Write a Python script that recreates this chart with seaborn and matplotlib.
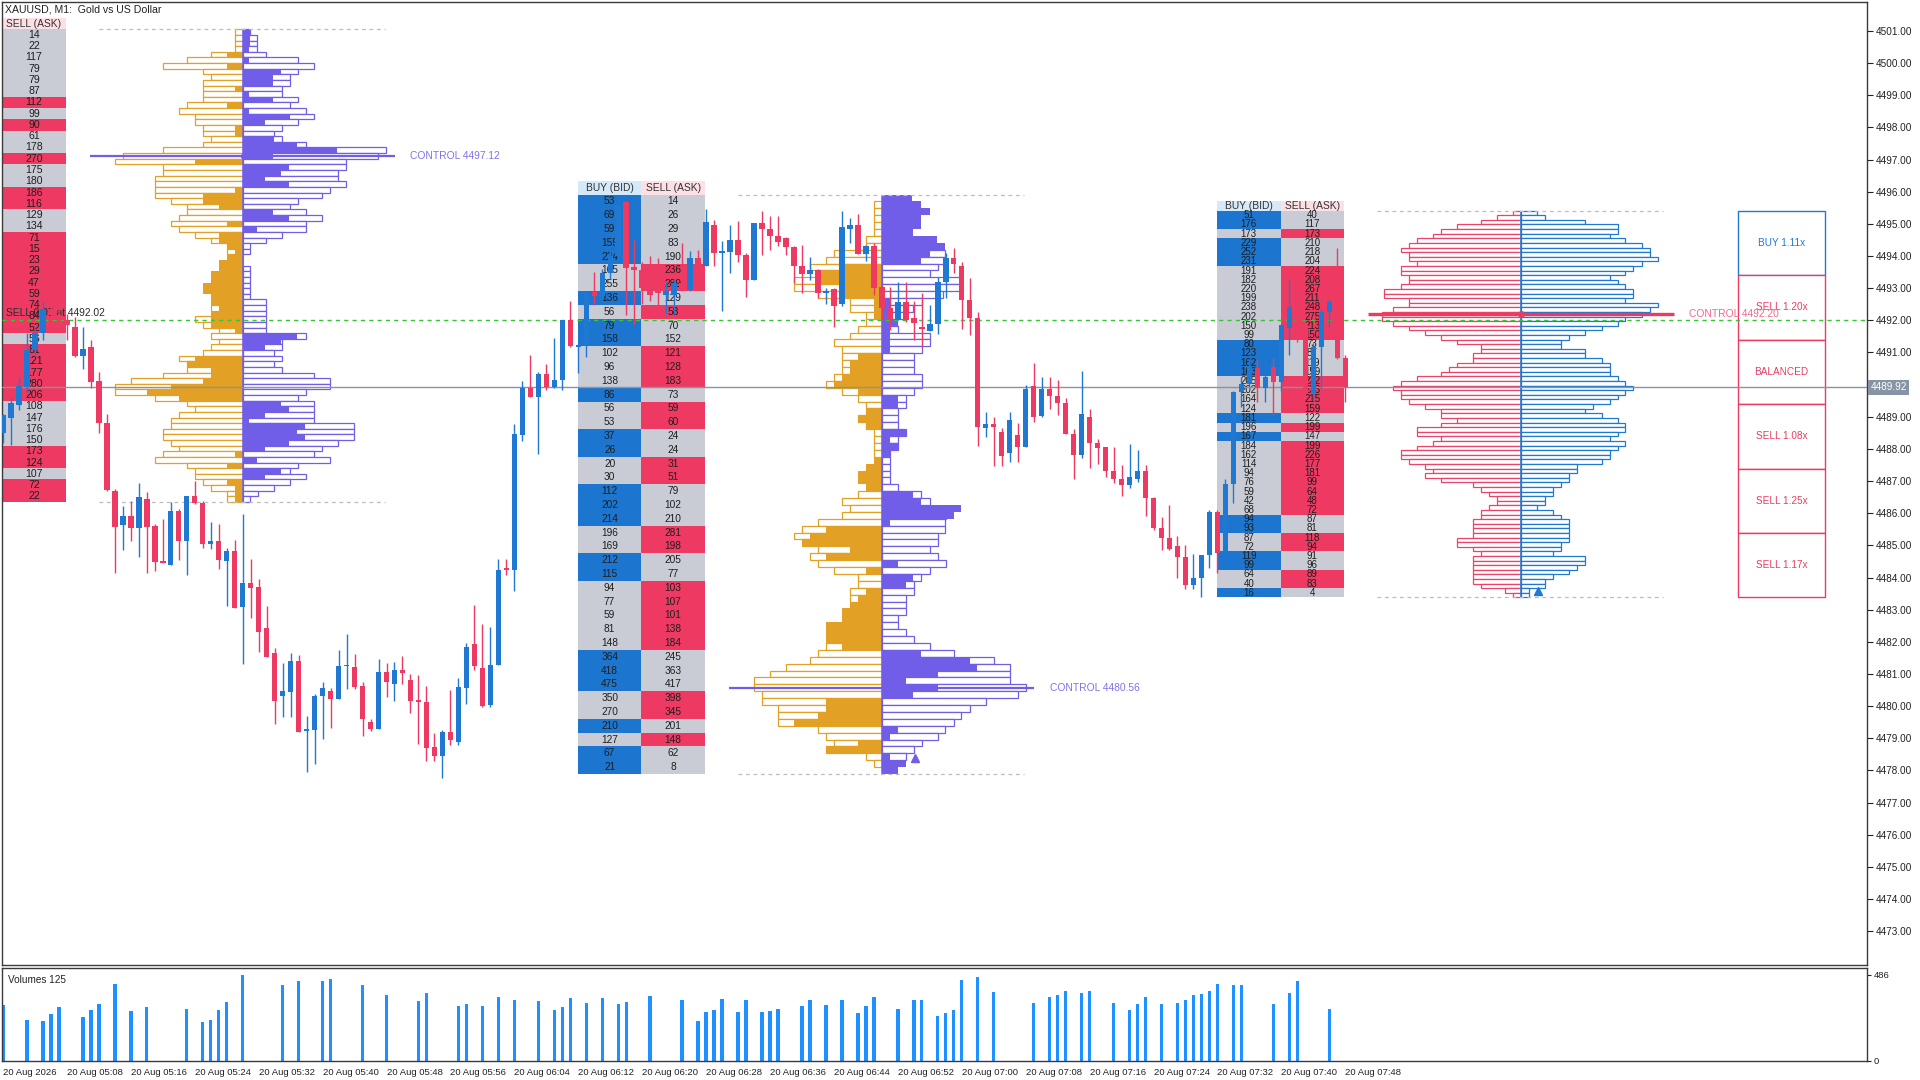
import numpy as np
import pandas as pd
import matplotlib
matplotlib.use("Agg")
import matplotlib.pyplot as plt
import matplotlib.transforms as mtransforms
import seaborn as sns

# ---------------- data ----------------
# one-minute candles, minute 0 = 20 Aug 05:00
opens = [4488.50, 4488.95, 4489.37, 4489.94, 4491.08, 4491.60, 4492.35, 4492.15, 4492.00, 4491.80,
         4490.90, 4491.18, 4490.10, 4488.80, 4486.70, 4485.64, 4485.92, 4485.55, 4486.44, 4485.60,
         4484.53, 4484.40, 4486.07, 4485.15, 4486.54, 4486.33, 4485.05, 4485.13, 4484.53, 4484.82,
         4483.08, 4483.82, 4483.70, 4482.42, 4481.65, 4480.33, 4480.43, 4481.40, 4479.22, 4479.25,
         4480.33, 4480.46, 4480.22, 4481.24, 4481.22, 4480.64, 4479.51, 4479.30, 4481.06, 4480.70,
         4481.11, 4480.80, 4480.19, 4480.12, 4478.73, 4478.45, 4479.21, 4478.89, 4480.57, 4481.93,
         4481.19, 4480.03, 4481.27, 4484.27, 4484.25, 4488.43, 4489.91, 4489.60, 4490.34, 4489.92,
         4490.13, 4492.01, 4491.18, 4491.23, 4492.88, 4492.75, 4493.46, 4494.00, 4495.69, 4493.65,
         4493.57, 4493.00, 4492.94, 4492.80, 4492.80, 4493.15, 4492.94, 4493.93, 4493.68, 4494.97,
         4494.10, 4494.14, 4494.50, 4494.04, 4493.25, 4495.04, 4494.83, 4494.62, 4494.55, 4494.29,
         4493.69, 4493.44, 4493.55, 4492.84, 4492.96, 4492.50, 4494.85, 4494.95, 4494.06, 4494.30,
         4493.05, 4492.38, 4492.01, 4492.58, 4492.06, 4491.80, 4491.68, 4491.89, 4493.20, 4493.93,
         4493.70, 4492.63, 4492.08, 4488.64, 4488.78, 4488.54, 4487.88, 4488.43, 4488.07, 4489.96,
         4489.02, 4489.87, 4489.66, 4489.44, 4488.48, 4487.81, 4489.00, 4488.19, 4488.07, 4487.32,
         4487.07, 4486.88, 4487.07, 4487.30, 4486.48, 4485.54, 4485.24, 4484.99, 4484.65, 4483.77,
         4483.98, 4484.69, 4486.05, 4484.75, 4486.91, 4489.76, 4490.02, 4490.52, 4489.89, 4490.56,
         4490.09, 4491.75, 4492.40, 4491.90, 4489.73, 4491.18, 4492.27, 4492.55, 4490.82]
highs = [4489.10, 4489.58, 4490.20, 4491.60, 4491.75, 4492.60, 4492.70, 4492.40, 4492.20, 4492.10,
         4491.80, 4491.40, 4490.40, 4489.10, 4486.75, 4486.23, 4486.39, 4486.93, 4486.67, 4485.68,
         4485.81, 4486.36, 4486.13, 4486.54, 4487.00, 4486.39, 4485.74, 4485.68, 4484.93, 4485.16,
         4485.97, 4484.58, 4483.95, 4483.13, 4481.81, 4481.35, 4481.65, 4481.58, 4479.68, 4480.38,
         4480.75, 4480.57, 4481.74, 4482.24, 4481.62, 4480.75, 4479.60, 4481.46, 4481.34, 4481.37,
         4481.56, 4480.99, 4480.96, 4480.62, 4479.18, 4479.26, 4480.51, 4480.87, 4481.95, 4483.15,
         4482.57, 4482.47, 4484.59, 4484.59, 4488.77, 4490.12, 4490.93, 4490.38, 4490.64, 4491.46,
         4492.01, 4492.60, 4491.29, 4492.89, 4493.50, 4493.60, 4494.20, 4495.80, 4495.70, 4494.50,
         4493.80, 4494.00, 4493.93, 4493.20, 4493.30, 4494.40, 4494.15, 4494.20, 4495.45, 4495.12,
         4494.48, 4494.97, 4495.10, 4494.10, 4495.04, 4495.40, 4495.25, 4495.25, 4494.60, 4494.30,
         4494.34, 4493.96, 4493.60, 4493.00, 4493.00, 4495.40, 4495.17, 4495.30, 4494.35, 4494.40,
         4493.10, 4493.03, 4493.19, 4493.19, 4492.60, 4492.84, 4492.48, 4493.36, 4494.10, 4494.24,
         4493.80, 4493.31, 4492.25, 4489.16, 4488.98, 4488.64, 4489.16, 4488.82, 4490.00, 4490.66,
         4490.23, 4490.23, 4490.15, 4489.57, 4488.62, 4490.41, 4489.24, 4488.30, 4488.07, 4488.05,
         4487.50, 4488.15, 4487.97, 4487.50, 4486.50, 4485.87, 4486.26, 4485.30, 4485.00, 4484.73,
         4484.69, 4486.10, 4486.10, 4487.06, 4489.80, 4490.25, 4490.80, 4490.77, 4490.90, 4490.82,
         4491.90, 4493.25, 4492.50, 4492.00, 4491.30, 4492.35, 4492.65, 4494.24, 4490.92]
lows = [4488.20, 4488.12, 4489.20, 4489.70, 4490.90, 4491.40, 4492.00, 4491.90, 4491.40, 4490.85,
        4490.50, 4489.90, 4488.50, 4486.70, 4484.14, 4484.87, 4485.13, 4484.63, 4484.14, 4484.20,
        4484.45, 4484.40, 4484.56, 4484.09, 4486.30, 4484.92, 4484.90, 4484.27, 4483.10, 4483.04,
        4481.32, 4482.73, 4481.69, 4481.53, 4479.44, 4479.65, 4479.65, 4479.21, 4477.94, 4478.19,
        4478.97, 4479.31, 4480.22, 4480.54, 4480.54, 4479.08, 4479.23, 4479.28, 4480.27, 4480.17,
        4480.70, 4479.80, 4478.81, 4478.29, 4478.29, 4477.77, 4478.78, 4478.78, 4480.07, 4481.13,
        4479.96, 4479.96, 4481.27, 4484.07, 4483.59, 4488.24, 4489.60, 4487.85, 4489.84, 4489.89,
        4489.84, 4491.17, 4490.37, 4490.87, 4492.48, 4492.60, 4493.30, 4493.90, 4492.17, 4491.90,
        4492.50, 4492.60, 4492.48, 4492.20, 4492.20, 4492.90, 4492.90, 4493.70, 4493.68, 4493.68,
        4492.30, 4493.46, 4493.80, 4492.74, 4493.25, 4494.03, 4494.19, 4494.30, 4494.03, 4493.15,
        4492.84, 4493.25, 4492.68, 4492.50, 4491.80, 4492.45, 4494.39, 4494.06, 4493.84, 4492.79,
        4492.00, 4491.70, 4492.01, 4491.95, 4491.39, 4491.18, 4491.68, 4491.57, 4492.70, 4493.46,
        4491.72, 4491.54, 4488.09, 4488.36, 4487.47, 4487.47, 4487.60, 4487.60, 4488.07, 4488.85,
        4488.98, 4489.24, 4489.06, 4488.48, 4487.07, 4487.71, 4487.40, 4487.53, 4487.14, 4486.93,
        4486.54, 4486.78, 4486.97, 4485.91, 4485.47, 4484.86, 4484.86, 4483.98, 4483.63, 4483.63,
        4483.39, 4484.29, 4484.15, 4484.70, 4486.31, 4489.31, 4489.95, 4489.47, 4489.47, 4489.06,
        4489.80, 4490.92, 4491.34, 4489.60, 4489.50, 4489.89, 4491.80, 4490.80, 4489.45]
closes = [4489.06, 4489.42, 4489.96, 4491.08, 4491.60, 4492.35, 4492.15, 4492.05, 4491.85, 4490.90,
          4491.10, 4490.09, 4488.80, 4486.72, 4485.58, 4485.92, 4485.55, 4486.49, 4485.58, 4484.49,
          4484.46, 4486.07, 4485.15, 4486.54, 4486.31, 4485.05, 4485.13, 4484.56, 4484.82, 4483.04,
          4483.82, 4483.67, 4482.31, 4481.53, 4480.15, 4480.46, 4481.40, 4479.21, 4479.29, 4480.33,
          4480.57, 4480.22, 4481.24, 4481.28, 4480.61, 4479.60, 4479.30, 4481.06, 4480.75, 4481.11,
          4481.04, 4480.17, 4480.12, 4478.71, 4478.45, 4479.21, 4478.94, 4480.59, 4481.84, 4481.24,
          4480.01, 4481.27, 4484.25, 4484.24, 4488.48, 4489.91, 4489.60, 4490.34, 4489.92, 4490.15,
          4492.01, 4491.19, 4491.23, 4492.85, 4492.75, 4493.46, 4494.00, 4495.60, 4493.62, 4493.57,
          4493.00, 4492.80, 4492.84, 4492.90, 4493.15, 4493.00, 4493.93, 4493.72, 4495.06, 4494.10,
          4494.14, 4494.50, 4494.04, 4493.25, 4495.04, 4494.83, 4494.62, 4494.45, 4494.29, 4493.69,
          4493.44, 4493.57, 4492.84, 4492.90, 4492.46, 4494.89, 4494.95, 4494.06, 4494.31, 4493.02,
          4492.38, 4492.01, 4492.58, 4492.01, 4491.91, 4491.72, 4491.89, 4493.20, 4493.93, 4493.75,
          4492.63, 4492.08, 4488.69, 4488.78, 4488.68, 4487.79, 4488.90, 4488.07, 4489.86, 4489.00,
          4489.87, 4489.66, 4489.44, 4488.48, 4487.81, 4489.09, 4488.19, 4488.04, 4487.32, 4487.07,
          4486.88, 4487.12, 4487.30, 4486.48, 4485.54, 4485.24, 4484.89, 4484.65, 4483.77, 4483.98,
          4484.69, 4486.05, 4484.75, 4486.91, 4489.76, 4490.02, 4490.55, 4489.89, 4490.25, 4490.09,
          4491.86, 4492.42, 4491.90, 4489.75, 4491.18, 4492.27, 4492.57, 4490.82, 4489.92]

# tick volumes (only the minutes that show a bar)
vol_minute = [0, 3, 5, 6, 7, 10, 11, 12, 14, 16, 18, 23, 25, 26, 27, 28, 30, 35, 37, 40, 41, 45, 48,
              52, 53, 57, 58, 60, 62, 64, 67, 69, 70, 71, 73, 75, 77, 78, 81, 85, 87, 88, 89, 90, 92,
              93, 95, 96, 97, 100, 101, 103, 105, 107, 108, 109, 112, 114, 115, 117, 118, 119, 120,
              122, 124, 129, 131, 132, 133, 135, 136, 139, 141, 142, 143, 145, 147, 148, 149, 150,
              151, 152, 154, 155, 159, 161, 162, 166]
vol_value = [317, 233, 227, 266, 306, 250, 289, 323, 435, 283, 306, 295, 221, 233, 289, 334, 486, 430,
             452, 452, 463, 430, 373, 340, 385, 311, 323, 311, 362, 345, 340, 289, 306, 357, 328, 357,
             323, 334, 368, 345, 227, 278, 289, 351, 278, 345, 278, 283, 295, 311, 345, 317, 345, 272,
             311, 362, 295, 345, 345, 255, 272, 289, 456, 473, 388, 327, 360, 372, 394, 383, 394, 327,
             287, 321, 360, 321, 327, 343, 372, 377, 394, 433, 428, 428, 321, 383, 450, 293]

# three session volume profiles (84 levels each, top to bottom)
prof_center = [30, 110, 190]
prof_top = [4501.05, 4495.91, 4495.41]
prof_bottom = [4486.35, 4477.89, 4483.38]
control_price = [4497.12, 4480.56, 4492.20]

prof1_left_out = [8, 8, 8, 8, 32, 56, 80, 40, 32, 40, 40, 40, 40, 56, 64, 48, 48, 40, 40, 32,
                  40, 80, 120, 128, 80, 80, 88, 88, 88, 88, 72, 56, 56, 64, 72, 64, 48, 32, 16, 16,
                  8, 8, 8, 16, 16, 24, 24, 16, 24, 32, 24, 48, 40, 24, 32, 24, 32, 40, 64, 56,
                  56, 80, 112, 128, 128, 88, 56, 48, 64, 72, 72, 80, 80, 72, 64, 80, 88, 56, 48, 48,
                  40, 32, 16, 16]
prof1_left_fill = [0, 0, 0, 0, 16, 0, 16, 0, 0, 0, 8, 0, 0, 16, 0, 0, 0, 8, 8, 0,
                   0, 0, 0, 48, 0, 0, 0, 0, 8, 40, 40, 24, 0, 0, 16, 0, 24, 24, 16, 8,
                   16, 24, 24, 32, 32, 40, 40, 32, 32, 24, 32, 32, 32, 8, 0, 0, 0, 0, 48, 56,
                   32, 32, 40, 72, 96, 64, 0, 0, 0, 0, 0, 0, 0, 0, 0, 8, 0, 16, 0, 0,
                   16, 8, 8, 8]
prof1_right_out = [7, 14, 14, 14, 23, 55, 71, 55, 47, 47, 39, 39, 55, 47, 63, 71, 55, 39, 31, 39,
                   63, 143, 135, 103, 103, 95, 95, 103, 87, 79, 55, 47, 63, 79, 63, 63, 39, 23, 7, 7,
                   0, 0, 7, 7, 7, 7, 7, 7, 23, 23, 23, 23, 23, 23, 63, 39, 39, 31, 39, 31,
                   39, 71, 87, 87, 63, 55, 71, 71, 71, 71, 111, 111, 111, 95, 79, 71, 87, 55, 47, 63,
                   47, 31, 15, 7]
prof1_right_fill = [7, 7, 7, 6, 0, 6, 0, 38, 30, 30, 0, 6, 30, 0, 6, 47, 22, 0, 0, 31,
                    54, 94, 30, 0, 46, 38, 22, 46, 0, 0, 0, 0, 30, 46, 0, 14, 0, 0, 0, 0,
                    0, 0, 0, 0, 0, 0, 0, 0, 0, 0, 0, 0, 0, 0, 54, 38, 22, 0, 0, 0,
                    0, 0, 0, 0, 0, 0, 38, 46, 22, 6, 62, 54, 62, 46, 22, 0, 14, 0, 38, 22,
                    0, 0, 0, 0]

prof2_left_out = [0, 8, 8, 8, 8, 8, 16, 16, 48, 56, 72, 62, 88, 88, 64, 32, 32, 16, 16, 24,
                  32, 48, 40, 40, 40, 40, 48, 56, 40, 24, 16, 16, 24, 16, 8, 8, 8, 8, 0, 0,
                  16, 0, 8, 24, 40, 32, 40, 64, 80, 88, 80, 64, 72, 64, 48, 24, 24, 32, 32, 0,
                  0, 0, 0, 48, 40, 56, 64, 72, 96, 112, 128, 128, 120, 120, 104, 104, 104, 64, 56, 48,
                  56, 16, 8, 0]
prof2_left_fill = [0, 0, 0, 0, 0, 0, 0, 0, 0, 0, 37, 62, 62, 37, 37, 8, 8, 8, 0, 0,
                   0, 0, 0, 24, 32, 32, 40, 48, 24, 0, 0, 16, 24, 16, 0, 0, 0, 0, 8, 16,
                   24, 24, 16, 0, 0, 0, 0, 0, 56, 72, 80, 32, 56, 0, 16, 0, 0, 16, 24, 32,
                   40, 40, 56, 56, 56, 40, 0, 0, 0, 0, 0, 0, 0, 56, 56, 64, 88, 0, 0, 24,
                   56, 0, 0, 0]
prof2_right_out = [0, 0, 0, 0, 0, 0, 0, 0, 63, 63, 56, 48, 78, 78, 61, 40, 31, 24, 15, 16,
                   48, 48, 40, 32, 32, 32, 40, 40, 32, 24, 24, 16, 16, 16, 24, 16, 16, 8, 8, 8,
                   8, 8, 16, 39, 48, 0, 64, 63, 63, 56, 56, 48, 56, 64, 48, 39, 32, 32, 24, 24,
                   24, 16, 16, 24, 32, 48, 72, 112, 128, 128, 128, 144, 136, 104, 88, 79, 72, 63, 56, 40,
                   32, 24, 0, 0]
prof2_right_fill = [30, 39, 48, 39, 39, 31, 55, 63, 48, 39, 0, 0, 0, 0, 0, 8, 8, 8, 15, 8,
                    8, 8, 8, 0, 0, 0, 0, 0, 0, 16, 16, 0, 0, 0, 24, 8, 16, 8, 0, 0,
                    0, 0, 0, 31, 39, 79, 72, 8, 0, 0, 0, 0, 0, 16, 0, 31, 24, 0, 0, 0,
                    0, 0, 0, 0, 0, 0, 39, 88, 95, 56, 24, 56, 31, 0, 0, 0, 0, 16, 8, 0,
                    0, 8, 24, 16]

prof3_left_out = [8, 24, 40, 64, 80, 88, 104, 112, 120, 112, 112, 104, 120, 120, 112, 112, 120, 137, 137, 112,
                  112, 128, 139, 139, 128, 112, 96, 80, 64, 40, 40, 48, 48, 64, 72, 80, 104, 120, 128, 120,
                  120, 112, 96, 80, 80, 64, 80, 104, 104, 80, 88, 104, 120, 120, 112, 96, 88, 96, 80, 48,
                  40, 32, 24, 24, 32, 40, 40, 48, 48, 48, 48, 64, 64, 48, 40, 48, 48, 48, 48, 48,
                  48, 40, 16, 8]
prof3_right_out = [16, 24, 64, 97, 97, 89, 104, 121, 129, 129, 137, 121, 112, 104, 89, 97, 104, 112, 112, 104,
                   137, 129, 121, 104, 97, 81, 64, 48, 40, 40, 64, 64, 81, 89, 89, 89, 97, 104, 112, 104,
                   97, 89, 72, 64, 81, 97, 104, 104, 97, 89, 104, 97, 89, 89, 81, 56, 56, 48, 48, 40,
                   32, 32, 24, 24, 16, 32, 40, 48, 48, 48, 48, 48, 40, 40, 32, 64, 64, 56, 48, 32,
                   24, 24, 8, 8]

# bid / ask tables (42 rows each)
tab1_sell = [14, 22, 117, 79, 79, 87, 112, 99, 90, 61, 178, 270, 175, 180, 186, 116, 129, 134, 71, 15,
             23, 29, 47, 59, 74, 84, 52, 56, 81, 121, 177, 280, 206, 108, 147, 176, 150, 173, 124, 107,
             72, 22]
tab1_sell_wins = [0, 0, 0, 0, 0, 0, 1, 0, 1, 0, 0, 1, 0, 0, 1, 1, 0, 0, 1, 1,
                  1, 1, 1, 1, 1, 1, 1, 0, 1, 1, 1, 1, 1, 0, 0, 0, 0, 1, 1, 0,
                  1, 1]
tab2_buy = [53, 69, 59, 159, 224, 165, 255, 136, 56, 79, 158, 102, 96, 138, 86, 56, 53, 37, 26, 20,
            30, 112, 202, 214, 196, 169, 212, 115, 94, 77, 59, 81, 148, 364, 418, 475, 350, 270, 210, 127,
            67, 21]
tab2_sell = [14, 26, 29, 83, 190, 236, 289, 129, 58, 70, 152, 121, 128, 183, 73, 59, 60, 24, 24, 31,
             51, 79, 102, 210, 281, 198, 205, 77, 103, 107, 101, 138, 184, 245, 363, 417, 398, 345, 201, 148,
             62, 8]
tab3_buy = [51, 176, 173, 229, 252, 231, 191, 182, 220, 199, 238, 202, 150, 99, 80, 123, 162, 163, 205, 202,
            164, 124, 181, 196, 167, 184, 162, 114, 94, 76, 59, 42, 68, 94, 93, 87, 72, 119, 99, 64,
            40, 16]
tab3_sell = [40, 117, 173, 210, 218, 204, 224, 208, 267, 211, 248, 275, 213, 150, 73, 87, 119, 159, 232, 233,
             215, 159, 122, 199, 147, 199, 226, 177, 181, 99, 64, 48, 72, 87, 81, 118, 94, 91, 96, 89,
             83, 4]

imbalance_labels = ["BUY 1.11x", "SELL 1.20x", "BALANCED", "SELL 1.08x", "SELL 1.25x", "SELL 1.17x"]
arrow_minute = [114.1, 192.1]
arrow_price = [4478.4, 4483.57]

last_price = 4489.92
order_price = 4492.02
last_volume = 125

# ---------------- styling ----------------
sns.set_style("white")
plt.rcParams['font.family'] = ['Liberation Sans', 'DejaVu Sans']

BULL = '#1f78d2'
BEAR = '#ee3a62'
ORANGE = '#e2a024'
PURPLE = '#705ee8'
CELL_BLUE = '#1c75cf'
CELL_RED = '#ee3a62'
CELL_GRAY = '#c9ccd4'
TXT = '#1e1e1e'
VPM = 8.0        # profile volume units per minute of width
TAB_OFF = 22.15  # gap between table and profile centre (minutes)
COL_W = 7.95

fig = plt.figure(figsize=(19.2, 10.8), dpi=100)
ax = fig.add_axes([2 / 1920, 1 - 965 / 1080, 1865 / 1920, 963 / 1080])
axv = fig.add_axes([2 / 1920, 1 - 1061 / 1080, 1865 / 1920, 93 / 1080])

XMIN, XMAX = -0.125, 233.3
ax.set_xlim(XMIN, XMAX)
ax.set_ylim(4471.95, 4501.9)


def draw_table(c, top, bot, sell, buy=None, sell_wins=None, fs=7.2):
    n = len(sell)
    rh = (top - bot) / n
    ys = top - rh * (np.arange(n) + 1)
    x_sell = c - TAB_OFF - COL_W
    x_buy = x_sell - COL_W
    if buy is not None:
        ask = np.asarray(sell) >= np.asarray(buy)
    else:
        ask = np.asarray(sell_wins, dtype=bool)
    ax.bar(np.full(n, x_sell), rh, width=COL_W, bottom=ys, align='edge',
           color=np.where(ask, CELL_RED, CELL_GRAY), lw=0, zorder=1)
    ax.bar([x_sell], [rh], width=COL_W, bottom=top, align='edge', color='#fde0e6', lw=0, zorder=1)
    ax.text(x_sell + COL_W / 2, top + rh / 2, 'SELL (ASK)', ha='center', va='center',
            fontsize=7.4, color='#333333', zorder=1.2)
    for y, v in zip(ys, sell):
        ax.text(x_sell + COL_W / 2, y + rh / 2, str(v), ha='center', va='center',
                fontsize=fs, color=TXT, zorder=1.2)
    if buy is not None:
        ax.bar(np.full(n, x_buy), rh, width=COL_W, bottom=ys, align='edge',
               color=np.where(ask, CELL_GRAY, CELL_BLUE), lw=0, zorder=1)
        ax.bar([x_buy], [rh], width=COL_W, bottom=top, align='edge', color='#d6e9f9', lw=0, zorder=1)
        ax.text(x_buy + COL_W / 2, top + rh / 2, 'BUY (BID)', ha='center', va='center',
                fontsize=7.4, color='#333333', zorder=1.2)
        for y, v in zip(ys, buy):
            ax.text(x_buy + COL_W / 2, y + rh / 2, str(v), ha='center', va='center',
                    fontsize=fs, color=TXT, zorder=1.2)


def draw_profile(c, top, bot, lout, lfill, rout, rfill, lcol, rcol, ccol):
    n = len(lout)
    h = (top - bot) / n
    ys = top - h * (np.arange(n) + 1)
    lo = np.asarray(lout) / VPM
    lf = np.asarray(lfill) / VPM
    ro = np.asarray(rout) / VPM
    rf = np.asarray(rfill) / VPM
    m = lo > 0
    ax.barh(ys[m], lo[m], left=c - lo[m], height=h, align='edge', facecolor='white',
            edgecolor=lcol, lw=0.9, zorder=2)
    m = lf > 0
    ax.barh(ys[m], lf[m], left=c - lf[m], height=h, align='edge', color=lcol, lw=0, zorder=2.1)
    m = ro > 0
    ax.barh(ys[m], ro[m], left=c, height=h, align='edge', facecolor='white',
            edgecolor=rcol, lw=0.9, zorder=2)
    m = rf > 0
    ax.barh(ys[m], rf[m], left=c, height=h, align='edge', color=rcol, lw=0, zorder=2.1)
    ax.vlines(c, bot, top, color=ccol, lw=1.1, zorder=2.2)
    ax.hlines([top, bot], c - 18, c + 17.8, colors='#bdbdbd', linestyles=(0, (3, 3)), lw=0.9, zorder=2.3)


zero = [0] * 84
draw_profile(prof_center[0], prof_top[0], prof_bottom[0], prof1_left_out, prof1_left_fill,
             prof1_right_out, prof1_right_fill, ORANGE, PURPLE, PURPLE)
draw_profile(prof_center[1], prof_top[1], prof_bottom[1], prof2_left_out, prof2_left_fill,
             prof2_right_out, prof2_right_fill, ORANGE, PURPLE, PURPLE)
draw_profile(prof_center[2], prof_top[2], prof_bottom[2], prof3_left_out, zero,
             prof3_right_out, zero, '#ec4468', BULL, BULL)

draw_table(prof_center[0], prof_top[0], prof_bottom[0], tab1_sell, sell_wins=tab1_sell_wins, fs=7.6)
draw_table(prof_center[1], prof_top[1], prof_bottom[1], tab2_sell, buy=tab2_buy, fs=7.3)
draw_table(prof_center[2], prof_top[2], prof_bottom[2], tab3_sell, buy=tab3_buy, fs=7.0)

# control (point of control) lines
ctrl_cols = [PURPLE, PURPLE, '#ec3a60']
ctrl_txt = ['#7f72f0', '#7f72f0', '#f06a88']
ctrl_lw = [1.6, 1.6, 2.4]
for c, p, col, tcol, lw in zip(prof_center, control_price, ctrl_cols, ctrl_txt, ctrl_lw):
    ax.hlines(p, c - 19.1, c + 19.1, color=col, lw=lw, zorder=3)
    ax.text(c + 21, p, f'CONTROL {p:.2f}', ha='left', va='center', fontsize=7.4, color=tcol, zorder=7)
ax.plot([prof_center[2]], [control_price[2]], 'o', ms=4, color='#ec3a60', zorder=3.1)
ax.plot([prof_center[0]], [control_price[0]], 'o', ms=3, color=PURPLE, zorder=3.1)

ax.plot(arrow_minute[:1], arrow_price[:1], '^', ms=6, color=PURPLE, zorder=3)
ax.plot(arrow_minute[1:], arrow_price[1:], '^', ms=6, color=BULL, zorder=3)

# imbalance boxes at the right of the last profile
nb = len(imbalance_labels)
bh = (prof_top[2] - prof_bottom[2]) / nb
bx = prof_center[2] + 27.1
for i, lab in enumerate(imbalance_labels):
    col = BULL if lab.startswith('BUY') else '#ec3a60'
    yb = prof_top[2] - bh * (i + 1)
    ax.bar([bx], [bh], width=11.0, bottom=yb, align='edge', facecolor='white',
           edgecolor=col, lw=1.0, zorder=2)
    ax.text(bx + 5.5, yb + bh / 2, lab, ha='center', va='center', fontsize=7.2, color=col, zorder=6)

# price lines
ax.axhline(order_price, color='#32c832', lw=1.0, ls=(0, (3, 3)), zorder=3.5)
ax.axhline(last_price, color='#8893a3', lw=1.0, zorder=3.5)
ax.text(0.4, order_price + 0.05, f'SELL 0.05 at {order_price:.2f}', ha='left', va='bottom',
        fontsize=7.4, color='#2a2a2a', zorder=3.6)

# candles
df = pd.DataFrame({'open': opens, 'high': highs, 'low': lows, 'close': closes})
df['minute'] = np.arange(len(df))
df['high'] = df[['high', 'open', 'close']].max(axis=1)
df['low'] = df[['low', 'open', 'close']].min(axis=1)
up = df['close'] >= df['open']
cols = np.where(up, BULL, BEAR)
ax.vlines(df['minute'], df['low'], df['high'], colors=cols, lw=1.0, zorder=5)
body = (df['close'] - df['open']).abs().clip(lower=0.05)
ax.bar(df['minute'], body, width=0.68, bottom=df[['open', 'close']].min(axis=1),
       color=cols, lw=0, zorder=5.1)

# price scale (the 4490.00 label sits under the last-price tag)
ax.yaxis.tick_right()
yt = np.arange(4473, 4502)
ax.set_yticks(yt)
ax.set_yticklabels(['' if abs(v - last_price) < 0.3 else f'{v:.2f}' for v in yt])
ax.tick_params(axis='y', length=4, width=0.8, pad=2, labelsize=7.2, colors='#222222')
ax.set_xticks([])
trans = mtransforms.blended_transform_factory(ax.transAxes, ax.transData)
ax.text(1.0018, last_price, f'{last_price:.2f}', transform=trans, ha='left', va='center',
        fontsize=7.2, color='white', clip_on=False, zorder=10,
        bbox=dict(boxstyle='square,pad=0.25', fc='#8794a6', ec='none'))
for s in ax.spines.values():
    s.set_color('#3a3a3a')
    s.set_linewidth(1.0)

fig.text(5 / 1920, 1 - 9 / 1080, 'XAUUSD, M1:  Gold vs US Dollar', ha='left', va='center',
         fontsize=7.6, color='#222222')

# volume panel
axv.bar(vol_minute, vol_value, width=0.42, color='#1e90ff', lw=0)
axv.set_xlim(XMIN, XMAX)
axv.set_ylim(0, 524)
axv.yaxis.tick_right()
axv.set_yticks([0, 486])
axv.set_yticklabels(['0', '486'])
axv.tick_params(axis='y', length=3, width=0.8, pad=2, labelsize=6.8, colors='#222222')
xt = np.arange(0, 169, 8)
xl = ['20 Aug 2026'] + [f'20 Aug {5 + t // 60:02d}:{t % 60:02d}' for t in xt[1:]]
axv.set_xticks(xt)
axv.set_xticklabels(xl, ha='left')
axv.tick_params(axis='x', length=4, width=0.8, pad=1, labelsize=6.8, colors='#222222')
axv.text(0.003, 0.93, f'Volumes {last_volume}', transform=axv.transAxes, ha='left', va='top',
         fontsize=7.2, color='#222222')
for s in axv.spines.values():
    s.set_color('#3a3a3a')
    s.set_linewidth(1.0)

fig.savefig('out.png', dpi=100, facecolor='white')
